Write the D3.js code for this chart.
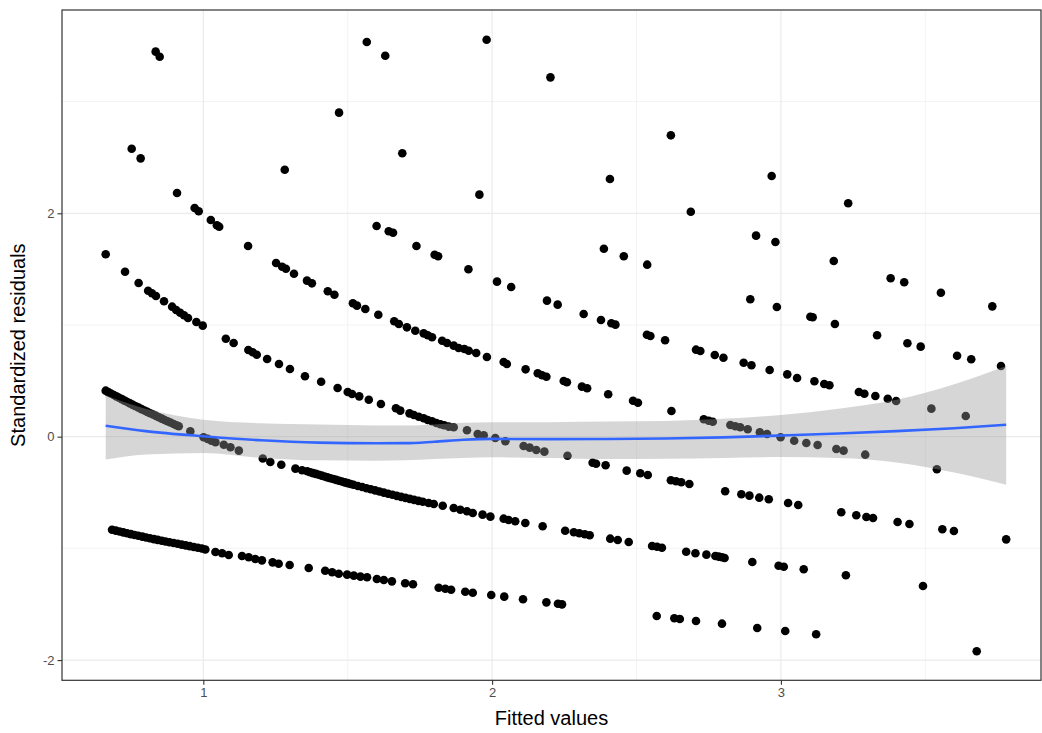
<!DOCTYPE html>
<html>
<head>
<meta charset="utf-8">
<script src="https://cdn.jsdelivr.net/npm/d3@7"></script>
<style>
  body { margin: 0; background: #ffffff; }
  text { font-family: "Liberation Sans", Arial, Helvetica, sans-serif; }
</style>
</head>
<body>
<svg id="chart" width="1042" height="733"></svg>
<script>
// Residuals vs fitted values for a count model, one curve per observed count.
// Each entry: [fitted value, standardized residual].
const count0 = [[0.684,-0.833],[0.697,-0.841],[0.710,-0.849],[0.723,-0.857],[0.736,-0.865],[0.749,-0.872],[0.762,-0.880],[0.775,-0.887],[0.789,-0.895],[0.802,-0.902],[0.815,-0.909],[0.829,-0.917],[0.842,-0.924],[0.856,-0.931],[0.869,-0.938],[0.883,-0.945],[0.897,-0.952],[0.911,-0.959],[0.925,-0.966],[0.939,-0.973],[0.953,-0.980],[0.967,-0.987],[0.981,-0.994],[0.995,-1.001],[1.007,-1.010],[1.042,-1.032],[1.065,-1.044],[1.088,-1.059],[1.134,-1.068],[1.157,-1.080],[1.180,-1.095],[1.203,-1.107],[1.240,-1.125],[1.261,-1.137],[1.299,-1.149],[1.365,-1.175],[1.422,-1.200],[1.446,-1.214],[1.469,-1.227],[1.498,-1.235],[1.521,-1.244],[1.544,-1.253],[1.567,-1.259],[1.601,-1.274],[1.625,-1.283],[1.653,-1.295],[1.699,-1.312],[1.726,-1.321],[1.815,-1.352],[1.838,-1.361],[1.858,-1.370],[1.907,-1.388],[1.933,-1.397],[1.997,-1.417],[2.042,-1.432],[2.107,-1.456],[2.188,-1.483],[2.228,-1.495],[2.242,-1.501],[2.570,-1.605],[2.631,-1.626],[2.650,-1.632],[2.706,-1.650],[2.796,-1.674],[2.918,-1.713],[3.015,-1.740],[3.122,-1.769],[3.678,-1.921]];

const count1 = [[0.662,0.412],[0.671,0.399],[0.680,0.387],[0.690,0.373],[0.699,0.361],[0.708,0.349],[0.718,0.336],[0.727,0.323],[0.737,0.310],[0.746,0.298],[0.756,0.285],[0.766,0.272],[0.776,0.260],[0.786,0.247],[0.796,0.235],[0.806,0.222],[0.816,0.210],[0.826,0.198],[0.836,0.186],[0.846,0.174],[0.856,0.162],[0.866,0.150],[0.876,0.138],[0.886,0.127],[0.897,0.114],[0.907,0.103],[0.915,0.094],[0.955,0.048],[1.001,-0.005],[1.015,-0.020],[1.028,-0.035],[1.042,-0.050],[1.071,-0.072],[1.094,-0.095],[1.123,-0.125],[1.206,-0.195],[1.232,-0.227],[1.270,-0.251],[1.319,-0.286],[1.342,-0.300],[1.360,-0.310],[1.370,-0.318],[1.380,-0.326],[1.390,-0.333],[1.400,-0.341],[1.410,-0.349],[1.420,-0.357],[1.430,-0.364],[1.440,-0.372],[1.450,-0.379],[1.460,-0.387],[1.470,-0.394],[1.480,-0.401],[1.490,-0.409],[1.500,-0.416],[1.510,-0.423],[1.520,-0.430],[1.535,-0.441],[1.550,-0.451],[1.565,-0.461],[1.580,-0.471],[1.595,-0.481],[1.610,-0.491],[1.625,-0.501],[1.640,-0.511],[1.655,-0.520],[1.670,-0.530],[1.685,-0.539],[1.700,-0.548],[1.715,-0.557],[1.730,-0.566],[1.745,-0.575],[1.760,-0.583],[1.780,-0.594],[1.798,-0.603],[1.829,-0.618],[1.867,-0.638],[1.890,-0.654],[1.913,-0.668],[1.933,-0.683],[1.967,-0.698],[1.994,-0.716],[2.040,-0.734],[2.057,-0.746],[2.080,-0.757],[2.115,-0.773],[2.175,-0.802],[2.253,-0.842],[2.283,-0.856],[2.302,-0.865],[2.321,-0.874],[2.338,-0.883],[2.409,-0.913],[2.435,-0.925],[2.473,-0.943],[2.554,-0.979],[2.571,-0.985],[2.588,-0.994],[2.672,-1.030],[2.704,-1.044],[2.742,-1.056],[2.773,-1.068],[2.785,-1.074],[2.796,-1.080],[2.805,-1.086],[2.901,-1.122],[2.992,-1.155],[3.010,-1.164],[3.079,-1.187],[3.225,-1.241],[3.492,-1.337]];

const count2 = [[0.662,1.633],[0.729,1.477],[0.776,1.376],[0.809,1.307],[0.822,1.284],[0.836,1.260],[0.864,1.212],[0.892,1.164],[0.906,1.134],[0.920,1.110],[0.933,1.087],[0.947,1.063],[0.976,1.027],[0.998,0.994],[1.078,0.877],[1.105,0.839],[1.156,0.776],[1.171,0.756],[1.185,0.734],[1.221,0.696],[1.262,0.651],[1.300,0.606],[1.352,0.541],[1.408,0.492],[1.465,0.436],[1.500,0.400],[1.515,0.382],[1.540,0.361],[1.573,0.331],[1.615,0.293],[1.667,0.254],[1.682,0.233],[1.714,0.209],[1.729,0.194],[1.746,0.179],[1.763,0.165],[1.777,0.150],[1.792,0.138],[1.807,0.123],[1.821,0.111],[1.834,0.102],[1.850,0.090],[1.867,0.084],[1.913,0.057],[1.950,0.024],[1.971,0.012],[2.011,-0.012],[2.046,-0.041],[2.109,-0.083],[2.130,-0.098],[2.153,-0.119],[2.181,-0.134],[2.261,-0.170],[2.348,-0.233],[2.360,-0.242],[2.393,-0.256],[2.466,-0.304],[2.513,-0.328],[2.539,-0.343],[2.619,-0.390],[2.637,-0.399],[2.655,-0.408],[2.683,-0.423],[2.807,-0.489],[2.863,-0.516],[2.891,-0.528],[2.925,-0.546],[2.958,-0.560],[3.025,-0.594],[3.060,-0.611],[3.209,-0.677],[3.261,-0.704],[3.296,-0.719],[3.319,-0.728],[3.404,-0.764],[3.445,-0.782],[3.559,-0.829],[3.599,-0.844],[3.780,-0.919]];

const count3 = [[0.752,2.578],[0.783,2.492],[0.909,2.182],[0.970,2.047],[0.984,2.018],[1.026,1.940],[1.047,1.893],[1.055,1.880],[1.155,1.707],[1.252,1.555],[1.273,1.522],[1.286,1.504],[1.314,1.459],[1.359,1.397],[1.376,1.373],[1.431,1.302],[1.454,1.271],[1.518,1.194],[1.532,1.173],[1.561,1.143],[1.606,1.092],[1.661,1.033],[1.677,1.009],[1.705,0.979],[1.734,0.949],[1.763,0.925],[1.777,0.908],[1.792,0.890],[1.827,0.859],[1.844,0.839],[1.867,0.815],[1.884,0.794],[1.904,0.785],[1.919,0.770],[1.945,0.749],[1.982,0.714],[2.040,0.669],[2.051,0.651],[2.116,0.603],[2.158,0.568],[2.173,0.550],[2.188,0.537],[2.248,0.499],[2.259,0.487],[2.311,0.448],[2.329,0.433],[2.402,0.380],[2.488,0.322],[2.505,0.304],[2.621,0.230],[2.733,0.156],[2.750,0.143],[2.764,0.134],[2.825,0.105],[2.842,0.093],[2.859,0.084],[2.885,0.066],[2.927,0.039],[2.952,0.024],[2.999,-0.005],[3.046,-0.036],[3.088,-0.056],[3.127,-0.074],[3.192,-0.110],[3.217,-0.125],[3.292,-0.161],[3.540,-0.292]];

const count4 = [[0.835,3.447],[0.849,3.402],[1.282,2.390],[1.600,1.886],[1.642,1.839],[1.657,1.826],[1.738,1.707],[1.801,1.629],[1.813,1.615],[1.918,1.499],[2.017,1.388],[2.066,1.340],[2.190,1.218],[2.227,1.182],[2.317,1.098],[2.377,1.045],[2.413,1.015],[2.427,1.003],[2.536,0.913],[2.548,0.902],[2.599,0.863],[2.706,0.779],[2.721,0.767],[2.771,0.731],[2.801,0.707],[2.871,0.662],[2.898,0.639],[2.961,0.597],[3.022,0.558],[3.056,0.526],[3.116,0.496],[3.150,0.472],[3.168,0.460],[3.270,0.400],[3.289,0.385],[3.327,0.364],[3.370,0.340],[3.399,0.320],[3.521,0.251],[3.640,0.185]];

const count5 = [[1.470,2.901],[1.689,2.537],[1.956,2.167],[2.387,1.683],[2.456,1.615],[2.537,1.540],[2.894,1.230],[2.986,1.161],[3.102,1.074],[3.110,1.069],[3.187,1.009],[3.333,0.908],[3.438,0.836],[3.484,0.806],[3.610,0.725],[3.659,0.693],[3.762,0.633]];

const count6 = [[1.566,3.534],[1.630,3.411],[2.408,2.307],[2.688,2.014],[2.914,1.800],[2.981,1.743],[3.183,1.573],[3.380,1.418],[3.427,1.382],[3.554,1.289],[3.732,1.167]];

const count7 = [[1.981,3.554],[2.202,3.217],[2.619,2.698],[2.968,2.334],[3.233,2.090]];

// Loess smooth with its confidence band.
const smoothX  = [0.662, 0.80, 1.00, 1.20, 1.40, 1.60, 1.70, 1.80, 1.90, 2.00, 2.20, 2.40, 2.60, 2.80, 3.00, 3.20, 3.40, 3.60, 3.780];
const smoothY  = [0.098, 0.050, 0.004, -0.032, -0.053, -0.059, -0.058, -0.045, -0.028, -0.020, -0.022, -0.021, -0.016, -0.006, 0.010, 0.028, 0.050, 0.076, 0.107];
const smoothLo = [-0.205, -0.160, -0.146, -0.190, -0.212, -0.215, -0.212, -0.200, -0.190, -0.185, -0.190, -0.200, -0.198, -0.190, -0.182, -0.190, -0.230, -0.320, -0.430];
const smoothHi = [0.370, 0.250, 0.152, 0.120, 0.108, 0.100, 0.100, 0.110, 0.125, 0.130, 0.130, 0.135, 0.140, 0.160, 0.195, 0.250, 0.330, 0.470, 0.633];

const xTicks = [1, 2, 3];
const yTicks = [-2, 0, 2];
const xMinor = [1.5, 2.5, 3.5];
const yMinor = [-1, 1, 3];
const xLimits = [0.5107, 3.9006];
const yLimits = [-2.181, 3.820];

const svg = d3.select("#chart");
const panel = { left: 62, top: 10, right: 1041, bottom: 680.3 };

const x = d3.scaleLinear().domain(xLimits).range([panel.left, panel.right]);
const y = d3.scaleLinear().domain(yLimits).range([panel.bottom, panel.top]);

svg.append("rect").attr("width", 1042).attr("height", 733).attr("fill", "#ffffff");

svg.append("clipPath").attr("id", "panelClip")
  .append("rect")
  .attr("x", panel.left).attr("y", panel.top)
  .attr("width", panel.right - panel.left).attr("height", panel.bottom - panel.top);

const g = svg.append("g").attr("clip-path", "url(#panelClip)");

// grid
g.selectAll("line.xminor").data(xMinor).join("line")
  .attr("x1", d => x(d)).attr("x2", d => x(d))
  .attr("y1", panel.top).attr("y2", panel.bottom)
  .attr("stroke", "#ebebeb").attr("stroke-width", 0.6);
g.selectAll("line.yminor").data(yMinor).join("line")
  .attr("y1", d => y(d)).attr("y2", d => y(d))
  .attr("x1", panel.left).attr("x2", panel.right)
  .attr("stroke", "#ebebeb").attr("stroke-width", 0.6);
g.selectAll("line.xmajor").data(xTicks).join("line")
  .attr("x1", d => x(d)).attr("x2", d => x(d))
  .attr("y1", panel.top).attr("y2", panel.bottom)
  .attr("stroke", "#ebebeb").attr("stroke-width", 1.2);
g.selectAll("line.ymajor").data(yTicks).join("line")
  .attr("y1", d => y(d)).attr("y2", d => y(d))
  .attr("x1", panel.left).attr("x2", panel.right)
  .attr("stroke", "#ebebeb").attr("stroke-width", 1.2);

// points
const allPoints = [].concat(count0, count1, count2, count3, count4, count5, count6, count7);
g.append("g").selectAll("circle").data(allPoints).join("circle")
  .attr("cx", d => x(d[0])).attr("cy", d => y(d[1]))
  .attr("r", 4.3).attr("fill", "#000000");

// confidence band and smooth line
const band = smoothX.map((v, i) => ({ x: v, lo: smoothLo[i], hi: smoothHi[i], y: smoothY[i] }));
g.append("path").datum(band)
  .attr("d", d3.area().curve(d3.curveMonotoneX)
    .x(d => x(d.x)).y0(d => y(d.lo)).y1(d => y(d.hi)))
  .attr("fill", "#999999").attr("fill-opacity", 0.4);
g.append("path").datum(band)
  .attr("d", d3.line().curve(d3.curveMonotoneX).x(d => x(d.x)).y(d => y(d.y)))
  .attr("fill", "none").attr("stroke", "#3366FF").attr("stroke-width", 2.6);

// panel border
svg.append("rect")
  .attr("x", panel.left).attr("y", panel.top)
  .attr("width", panel.right - panel.left).attr("height", panel.bottom - panel.top)
  .attr("fill", "none").attr("stroke", "#333333").attr("stroke-width", 1.2);

// axes
const xAxis = svg.append("g").attr("transform", `translate(0,${panel.bottom})`)
  .call(d3.axisBottom(x).tickValues(xTicks).tickSize(4.5).tickPadding(3).tickFormat(d3.format("d")));
const yAxis = svg.append("g").attr("transform", `translate(${panel.left},0)`)
  .call(d3.axisLeft(y).tickValues(yTicks).tickSize(4.5).tickPadding(3).tickFormat(d => d < 0 ? "-" + Math.abs(d) : String(d)));
[xAxis, yAxis].forEach(a => {
  a.select(".domain").remove();
  a.selectAll(".tick line").attr("stroke", "#333333").attr("stroke-width", 1.1);
  a.selectAll(".tick text").attr("fill", "#4d4d4d").style("font-size", "13px")
    .style("font-family", "'Liberation Sans', Arial, sans-serif");
});

svg.append("text")
  .attr("x", (panel.left + panel.right) / 2).attr("y", 725)
  .attr("text-anchor", "middle").attr("fill", "#000000").style("font-size", "20px")
  .text("Fitted values");
svg.append("text")
  .attr("transform", `translate(25,${(panel.top + panel.bottom) / 2}) rotate(-90)`)
  .attr("text-anchor", "middle").attr("fill", "#000000").style("font-size", "20px")
  .text("Standardized residuals");
</script>
</body>
</html>
